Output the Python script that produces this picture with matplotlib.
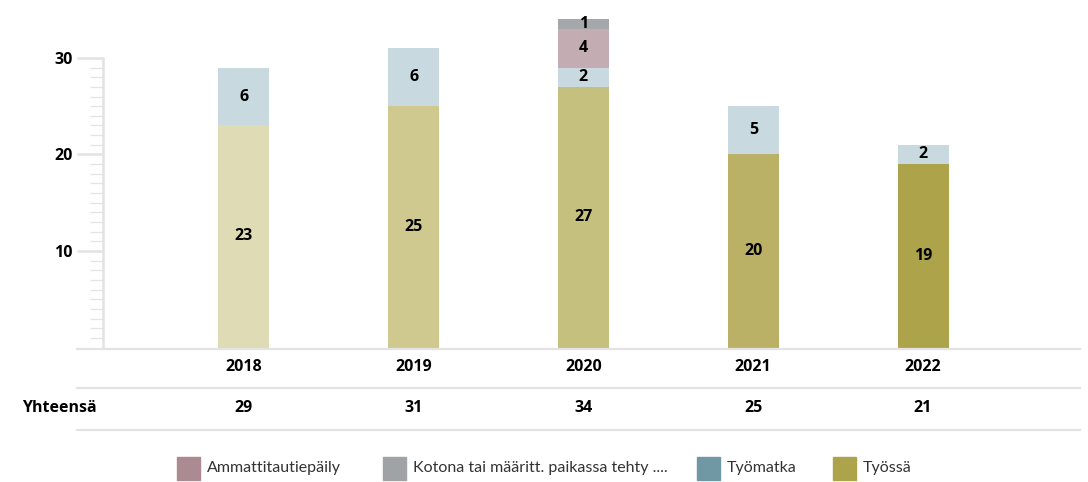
import matplotlib
matplotlib.use("Agg")
import matplotlib.pyplot as plt
import matplotlib.transforms as mtransforms
from matplotlib.lines import Line2D
from matplotlib.patches import Rectangle
import numpy as np

plt.rcParams["font.family"] = ["Open Sans", "DejaVu Sans"]

# data
years = ["2018", "2019", "2020", "2021", "2022"]
tyossa = [23, 25, 27, 20, 19]
tyomatka = [6, 6, 2, 5, 2]
ammattitauti = [0, 0, 4, 0, 0]
kotona = [0, 0, 1, 0, 0]
totals = [29, 31, 34, 25, 21]
row_label = "Yhteensä"
legend_labels = ["Ammattitautiepäily", "Kotona tai määritt. paikassa tehty ....",
                 "Työmatka", "Työssä"]

# styles
tyossa_colors = ["#dfdbb5", "#cfc98f", "#c6c07f", "#bab166", "#aca34a"]
c_tyomatka = "#c8d9df"
c_ammatti = "#c4adb2"
c_kotona = "#a5a8aa"
legend_colors = ["#ab8a92", "#a0a3a6", "#6f97a4", "#aca34a"]
grid_c = "#e3e3e3"
FS = 11.5

W, H = 1088, 482
fig = plt.figure(figsize=(W / 100, H / 100), dpi=100)
ax = fig.add_axes([103 / W, (H - 347.5) / H, (1080 - 103) / W, 347.5 / H])

x = np.arange(len(years))
bw = 0.3
b1 = ax.bar(x, tyossa, bw, color=tyossa_colors)
bottom = np.array(tyossa)
b2 = ax.bar(x, tyomatka, bw, bottom=bottom, color=c_tyomatka)
bottom = bottom + np.array(tyomatka)
b3 = ax.bar(x, ammattitauti, bw, bottom=bottom, color=c_ammatti)
bottom = bottom + np.array(ammattitauti)
b4 = ax.bar(x, kotona, bw, bottom=bottom, color=c_kotona)

for bars, vals in ((b1, tyossa), (b2, tyomatka), (b3, ammattitauti), (b4, kotona)):
    for rect, v in zip(bars, vals):
        if v > 0:
            ax.text(rect.get_x() + rect.get_width() / 2, rect.get_y() + v / 2, str(v),
                    ha="center", va="center", fontsize=FS, fontweight="bold", color="black")

ax.set_xlim(-0.829, 4.924)
ax.set_ylim(0, 36)
for s in ("top", "right", "bottom"):
    ax.spines[s].set_visible(False)
ax.spines["left"].set_color(grid_c)
ax.spines["left"].set_linewidth(1.8)
ax.spines["left"].set_bounds(0, 30)
ax.set_xticks([])
ax.set_yticks([10, 20, 30])
ax.set_yticks(np.arange(1, 30), minor=True)
ax.tick_params(axis="y", which="major", length=19, width=1.8, color=grid_c, pad=3)
ax.tick_params(axis="y", which="minor", length=9.5, width=0.9, color=grid_c)
for lbl in ax.get_yticklabels():
    lbl.set_fontweight("bold")
    lbl.set_fontsize(FS)

# table below
def hline(ypx):
    fig.add_artist(Line2D([77 / W, 1080 / W], [(H - ypx) / H] * 2,
                          color=grid_c, lw=1.6, transform=fig.transFigure))

hline(348.5)
hline(388)
hline(430)

trans = mtransforms.blended_transform_factory(ax.transData, fig.transFigure)
for i, (yr, tot) in enumerate(zip(years, totals)):
    ax.text(i, (H - 367) / H, yr, transform=trans, ha="center", va="center",
            fontsize=FS, fontweight="bold", clip_on=False)
    ax.text(i, (H - 408) / H, str(tot), transform=trans, ha="center", va="center",
            fontsize=FS, fontweight="bold", clip_on=False)
fig.text(22 / W, (H - 408) / H, row_label, ha="left", va="center",
         fontsize=FS, fontweight="bold")

# legend
leg_x = [177, 383, 697, 833]
for lx, lab, col in zip(leg_x, legend_labels, legend_colors):
    fig.add_artist(Rectangle((lx / W, (H - 480) / H), 23 / W, 23 / H,
                             color=col, transform=fig.transFigure))
    fig.text((lx + 30) / W, (H - 468) / H, lab, ha="left", va="center",
             fontsize=11.5, color="#333333", family=["Lato", "DejaVu Sans"])

fig.savefig("out.png", dpi=100)
